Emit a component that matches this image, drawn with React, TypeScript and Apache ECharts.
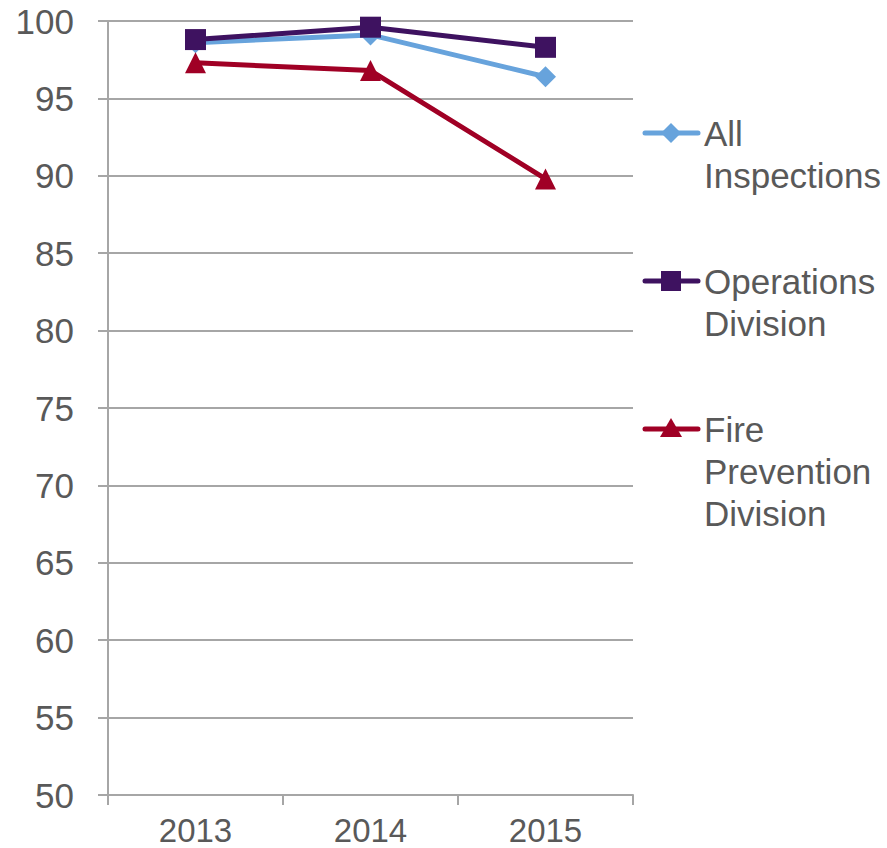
import React, { useEffect, useRef } from "react";
import * as echarts from "echarts";

const years = ["2013", "2014", "2015"];
const allInspections = [98.6, 99.1, 96.4];
const operationsDivision = [98.8, 99.6, 98.3];
const firePreventionDivision = [97.3, 96.8, 89.8];

const seriesNames = ["All Inspections", "Operations Division", "Fire Prevention Division"];
const legendLabels = [["All", "Inspections"], ["Operations", "Division"], ["Fire", "Prevention", "Division"]];
const colors = ["#67a3dc", "#3e1260", "#a00025"];
const symbols = ["diamond", "rect", "triangle"];

const FONT = "Liberation Sans";
const TEXT = "#595959";
const GRID = "#a6a6a6";

export default function App() {
  const ref = useRef<HTMLDivElement>(null);
  useEffect(() => {
    if (!ref.current) return;
    const chart = echarts.init(ref.current, null, { renderer: "svg" });
    const values = [allInspections, operationsDivision, firePreventionDivision];

    const legendTops = [133, 281, 429];
    const legendGraphics: any[] = [];
    legendTops.forEach((y, i) => {
      const c = colors[i];
      legendGraphics.push({
        type: "line",
        shape: { x1: 645, y1: y, x2: 698, y2: y },
        style: { stroke: c, lineWidth: 5, lineCap: "round" },
      });
      let marker: any;
      if (i === 0) {
        marker = { type: "polygon", shape: { points: [[671, y - 10], [681, y], [671, y + 10], [661, y]] }, style: { fill: c } };
      } else if (i === 1) {
        marker = { type: "rect", shape: { x: 661, y: y - 10, width: 20, height: 20 }, style: { fill: c } };
      } else {
        marker = { type: "polygon", shape: { points: [[671, y - 11], [682, y + 8], [660, y + 8]] }, style: { fill: c } };
      }
      legendGraphics.push(marker);
      legendLabels[i].forEach((line, j) => {
        legendGraphics.push({
          type: "text",
          x: 704,
          y: y + j * 42,
          style: { text: line, fill: TEXT, font: `35px "${FONT}"`, verticalAlign: "middle", align: "left" },
        });
      });
    });

    chart.setOption({
      animation: false,
      grid: { left: 108, top: 21, right: 254, bottom: 53 },
      xAxis: {
        type: "category",
        data: years,
        boundaryGap: true,
        axisLine: { show: true, lineStyle: { color: GRID, width: 2 } },
        axisTick: { show: true, length: 10, lineStyle: { color: GRID, width: 2 } },
        axisLabel: { color: TEXT, fontSize: 33, fontFamily: FONT, margin: 19 },
        splitLine: { show: false },
      },
      yAxis: {
        type: "value",
        min: 50,
        max: 100,
        interval: 5,
        axisLine: { show: true, lineStyle: { color: GRID, width: 2 } },
        axisTick: { show: true, length: 10, lineStyle: { color: GRID, width: 2 } },
        axisLabel: { color: TEXT, fontSize: 35, fontFamily: FONT, margin: 34 },
        splitLine: { show: true, lineStyle: { color: GRID, width: 2 } },
      },
      series: seriesNames.map((name, i) => ({
        name,
        type: "line",
        data: values[i],
        symbol: symbols[i],
        symbolSize: 21,
        showSymbol: true,
        itemStyle: { color: colors[i] },
        lineStyle: { color: colors[i], width: 5 },
        z: 2 + i,
      })),
      graphic: legendGraphics,
    });
    return () => chart.dispose();
  }, []);
  return <div ref={ref} style={{ position: "fixed", left: 0, top: 0, width: 887, height: 848, background: "#fff" }} />;
}
